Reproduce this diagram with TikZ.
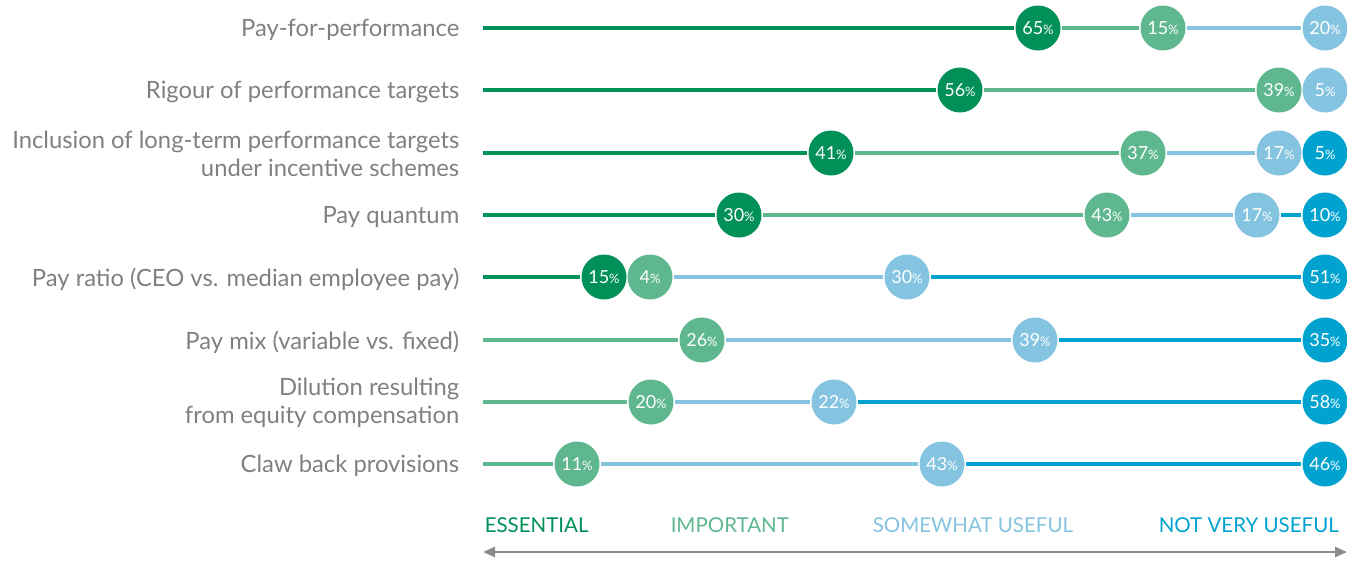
\documentclass[tikz,border=0pt]{standalone}
\usepackage{fontspec}
\setmainfont{Lato}
\usetikzlibrary{arrows.meta}

\definecolor{ess}{HTML}{009058}
\definecolor{imp}{HTML}{5FB78F}
\definecolor{swu}{HTML}{84C4E0}
\definecolor{nvu}{HTML}{00A3CF}
\definecolor{labelgrey}{HTML}{808080}
\definecolor{axisgrey}{HTML}{8C8C8C}

\newcommand{\pc}[1]{#1{\fontsize{13}{13}\selectfont\%}}

\begin{document}
\begin{tikzpicture}[x=1pt,y=-1pt,line width=3.5pt]
	\tikzstyle{dot}=[circle,minimum size=45pt,inner sep=0pt,text=white,
		font=\fontsize{18}{18}\selectfont]
	\tikzstyle{item}=[anchor=east,align=right,text=labelgrey,inner sep=0pt,
		font=\fontsize{23.8}{28}\selectfont]
	\tikzstyle{key}=[anchor=west,inner sep=0pt,font=\fontsize{20.5}{20.5}\selectfont]

	\useasboundingbox (0,0) rectangle (1347,560);

	% row labels
	\node[item] (l1) at (461,30)  {Pay-for-performance};
	\node[item] (l2) at (461,92)  {Rigour of performance targets};
	\node[item] (l3) at (461,154) {Inclusion of long-term performance targets\\under incentive schemes};
	\node[item] (l4) at (461,217) {Pay quantum};
	\node[item] (l5) at (461,279) {Pay ratio (CEO vs. median employee pay)};
	\node[item] (l6) at (461,342) {Pay mix (variable vs. fixed)};
	\node[item] (l7) at (461,403) {Dilution resulting\\from equity compensation};
	\node[item] (l8) at (461,466) {Claw back provisions};

	% row starts
	\coordinate (s1) at (483,28);
	\coordinate (s2) at (483,90);
	\coordinate (s3) at (483,153);
	\coordinate (s4) at (483,215);
	\coordinate (s5) at (483,277);
	\coordinate (s6) at (483,340);
	\coordinate (s7) at (483,402);
	\coordinate (s8) at (483,464);

	% answers
	\node[dot,fill=ess] (a1) at (1038,28) {\pc{65}};
	\node[dot,fill=imp] (b1) at (1163,28) {\pc{15}};
	\node[dot,fill=swu] (c1) at (1325,28) {\pc{20}};

	\node[dot,fill=ess] (a2) at (960,90)  {\pc{56}};
	\node[dot,fill=imp] (b2) at (1279,90) {\pc{39}};
	\node[dot,fill=swu] (c2) at (1325,90) {\pc{5}};

	\node[dot,fill=ess] (a3) at (831,153)  {\pc{41}};
	\node[dot,fill=imp] (b3) at (1143,153) {\pc{37}};
	\node[dot,fill=swu] (c3) at (1279,153) {\pc{17}};
	\node[dot,fill=nvu] (d3) at (1325,153) {\pc{5}};

	\node[dot,fill=ess] (a4) at (739,215)  {\pc{30}};
	\node[dot,fill=imp] (b4) at (1107,215) {\pc{43}};
	\node[dot,fill=swu] (c4) at (1257,215) {\pc{17}};
	\node[dot,fill=nvu] (d4) at (1325,215) {\pc{10}};

	\node[dot,fill=ess] (a5) at (604,277)  {\pc{15}};
	\node[dot,fill=imp] (b5) at (650,277)  {\pc{4}};
	\node[dot,fill=swu] (c5) at (907,277)  {\pc{30}};
	\node[dot,fill=nvu] (d5) at (1325,277) {\pc{51}};

	\node[dot,fill=imp] (b6) at (702,340)  {\pc{26}};
	\node[dot,fill=swu] (c6) at (1035,340) {\pc{39}};
	\node[dot,fill=nvu] (d6) at (1325,340) {\pc{35}};

	\node[dot,fill=imp] (b7) at (651,402)  {\pc{20}};
	\node[dot,fill=swu] (c7) at (834,402)  {\pc{22}};
	\node[dot,fill=nvu] (d7) at (1325,402) {\pc{58}};

	\node[dot,fill=imp] (b8) at (577,464)  {\pc{11}};
	\node[dot,fill=swu] (c8) at (942,464)  {\pc{43}};
	\node[dot,fill=nvu] (d8) at (1325,464) {\pc{46}};

	% connecting lines
	\draw[ess] (s1) -- (a1);
	\draw[imp] (a1) -- (b1);
	\draw[swu] (b1) -- (c1);

	\draw[ess] (s2) -- (a2);
	\draw[imp] (a2) -- (b2);

	\draw[ess] (s3) -- (a3);
	\draw[imp] (a3) -- (b3);
	\draw[swu] (b3) -- (c3);

	\draw[ess] (s4) -- (a4);
	\draw[imp] (a4) -- (b4);
	\draw[swu] (b4) -- (c4);
	\draw[nvu] (c4) -- (d4);

	\draw[ess] (s5) -- (a5);
	\draw[swu] (b5) -- (c5);
	\draw[nvu] (c5) -- (d5);

	\draw[imp] (s6) -- (b6);
	\draw[swu] (b6) -- (c6);
	\draw[nvu] (c6) -- (d6);

	\draw[imp] (s7) -- (b7);
	\draw[swu] (b7) -- (c7);
	\draw[nvu] (c7) -- (d7);

	\draw[imp] (s8) -- (b8);
	\draw[swu] (b8) -- (c8);
	\draw[nvu] (c8) -- (d8);

	% legend
	\node[key,text=ess] (k1) at (483,525)  {ESSENTIAL};
	\node[key,text=imp] (k2) at (669,525)  {IMPORTANT};
	\node[key,text=swu] (k3) at (871,525)  {SOMEWHAT USEFUL};
	\node[key,text=nvu] (k4) at (1157,525) {NOT VERY USEFUL};

	\coordinate (e1) at (483,552);
	\coordinate (e2) at (1347,552);
	\draw[axisgrey,line width=2.5pt,{Triangle[length=12pt,width=10pt]}-{Triangle[length=12pt,width=10pt]}] (e1) -- (e2);
\end{tikzpicture}
\end{document}
